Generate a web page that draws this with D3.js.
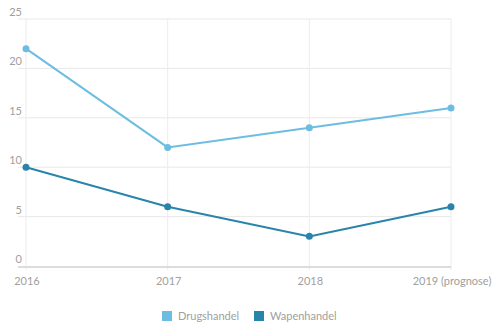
<!DOCTYPE html>
<html>
<head>
<meta charset="utf-8">
<script src="https://cdn.jsdelivr.net/npm/d3@7"></script>
<style>
  html, body { margin: 0; padding: 0; background: #fff; }
  svg { display: block; font-family: Lato, "Noto Sans", sans-serif; }
</style>
</head>
<body>
<svg id="chart" width="500" height="329"></svg>
<script>
// Years on the x axis
const years = ["2016", "2017", "2018", "2019 (prognose)"];
// Series values
const drugshandel = [22, 12, 14, 16];
const wapenhandel = [10, 6, 3, 6];
// Y axis ticks
const yTicks = [0, 5, 10, 15, 20, 25];

const seriesNames = ["Drugshandel", "Wapenhandel"];
const seriesColors = ["#6dbde2", "#2984ab"];

const svg = d3.select("#chart");
const W = 500;

const x = d3.scalePoint().domain(years).range([26, 451]);
const y = d3.scaleLinear().domain([0, 25]).range([266, 19]);

const grid = svg.append("g");

// horizontal gridlines
grid.selectAll("line.h")
  .data(yTicks.filter(d => d > 0))
  .join("line")
  .attr("class", "h")
  .attr("x1", 18).attr("x2", 451)
  .attr("y1", d => y(d)).attr("y2", d => y(d))
  .attr("stroke", "#e8e8e8").attr("stroke-width", 1);

// vertical gridlines at each year
grid.selectAll("line.v")
  .data(years)
  .join("line")
  .attr("class", "v")
  .attr("x1", d => x(d)).attr("x2", d => x(d))
  .attr("y1", y(25)).attr("y2", 270)
  .attr("stroke", "#ececec").attr("stroke-width", 1);

// baseline
svg.append("line")
  .attr("x1", 18).attr("x2", 451)
  .attr("y1", y(0) + 1).attr("y2", y(0) + 1)
  .attr("stroke", "#dcdcdc").attr("stroke-width", 2);

// y tick labels sit above their gridlines
svg.append("g").selectAll("text")
  .data(yTicks)
  .join("text")
  .attr("x", 22)
  .attr("y", d => y(d) - 3)
  .attr("text-anchor", "end")
  .attr("font-size", 11)
  .attr("fill", "#a0a0a0")
  .text(d => d);

// x tick labels
svg.append("g").selectAll("text")
  .data(years)
  .join("text")
  .attr("x", d => x(d) + 1)
  .attr("y", 285)
  .attr("text-anchor", "middle")
  .attr("font-size", 11)
  .attr("fill", "#a0a0a0")
  .text(d => d);

// lines and points
const allSeries = [drugshandel, wapenhandel];
const line = d3.line().x((d, i) => x(years[i])).y(d => y(d));

allSeries.forEach((vals, si) => {
  const g = svg.append("g");
  g.append("path")
    .datum(vals)
    .attr("d", line)
    .attr("fill", "none")
    .attr("stroke", seriesColors[si])
    .attr("stroke-width", 2);
  g.selectAll("circle")
    .data(vals)
    .join("circle")
    .attr("cx", (d, i) => x(years[i]))
    .attr("cy", d => y(d))
    .attr("r", 3.5)
    .attr("fill", seriesColors[si]);
});

// legend
const legendX = [162, 254];
const legend = svg.append("g");
seriesNames.forEach((name, i) => {
  legend.append("rect")
    .attr("x", legendX[i]).attr("y", 311)
    .attr("width", 10).attr("height", 10)
    .attr("fill", seriesColors[i]);
  legend.append("text")
    .attr("x", legendX[i] + 16).attr("y", 320)
    .attr("font-size", 11)
    .attr("fill", "#a0a0a0")
    .text(name);
});
</script>
</body>
</html>
